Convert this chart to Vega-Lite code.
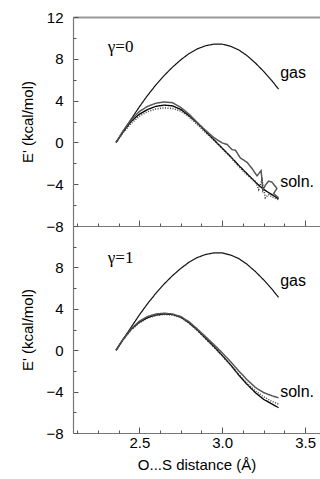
{
  "$schema": "https://vega.github.io/schema/vega-lite/v6.json",
  "padding": {"top": 10, "left": 20, "right": 0, "bottom": 5},
  "bounds": "flush",
  "spacing": 0,
  "config": {
    "view": {"stroke": null},
    "font": "Liberation Sans",
    "axis": {"grid": false, "domainColor": "#777", "domainWidth": 1.2, "tickColor": "#555", "labelColor": "#000", "titleColor": "#000", "labelFont": "Liberation Sans", "titleFont": "Liberation Sans", "titleFontWeight": "normal"}
  },
  "datasets": {
    "curves": [
      {"panel":"top","series":"gas","i":0,"x":2.36,"y":0},{"panel":"top","series":"gas","i":1,"x":2.40,"y":1.0},{"panel":"top","series":"gas","i":2,"x":2.45,"y":2.2},{"panel":"top","series":"gas","i":3,"x":2.50,"y":3.4},{"panel":"top","series":"gas","i":4,"x":2.55,"y":4.5},{"panel":"top","series":"gas","i":5,"x":2.60,"y":5.5},{"panel":"top","series":"gas","i":6,"x":2.65,"y":6.4},{"panel":"top","series":"gas","i":7,"x":2.70,"y":7.2},{"panel":"top","series":"gas","i":8,"x":2.75,"y":7.9},{"panel":"top","series":"gas","i":9,"x":2.80,"y":8.5},{"panel":"top","series":"gas","i":10,"x":2.85,"y":8.95},{"panel":"top","series":"gas","i":11,"x":2.90,"y":9.25},{"panel":"top","series":"gas","i":12,"x":2.95,"y":9.4},{"panel":"top","series":"gas","i":13,"x":3.00,"y":9.4},{"panel":"top","series":"gas","i":14,"x":3.05,"y":9.2},{"panel":"top","series":"gas","i":15,"x":3.10,"y":8.85},{"panel":"top","series":"gas","i":16,"x":3.15,"y":8.3},{"panel":"top","series":"gas","i":17,"x":3.20,"y":7.6},{"panel":"top","series":"gas","i":18,"x":3.25,"y":6.8},{"panel":"top","series":"gas","i":19,"x":3.30,"y":5.9},{"panel":"top","series":"gas","i":20,"x":3.34,"y":5.1},
      {"panel":"top","series":"s1","i":0,"x":2.36,"y":0},{"panel":"top","series":"s1","i":1,"x":2.40,"y":0.95},{"panel":"top","series":"s1","i":2,"x":2.45,"y":2.0},{"panel":"top","series":"s1","i":3,"x":2.50,"y":2.7},{"panel":"top","series":"s1","i":4,"x":2.55,"y":3.15},{"panel":"top","series":"s1","i":5,"x":2.60,"y":3.45},{"panel":"top","series":"s1","i":6,"x":2.65,"y":3.57},{"panel":"top","series":"s1","i":7,"x":2.70,"y":3.5},{"panel":"top","series":"s1","i":8,"x":2.75,"y":3.15},{"panel":"top","series":"s1","i":9,"x":2.80,"y":2.55},{"panel":"top","series":"s1","i":10,"x":2.85,"y":1.85},{"panel":"top","series":"s1","i":11,"x":2.90,"y":1.05},{"panel":"top","series":"s1","i":12,"x":2.95,"y":0.25},{"panel":"top","series":"s1","i":13,"x":3.00,"y":-0.55},{"panel":"top","series":"s1","i":14,"x":3.05,"y":-1.35},{"panel":"top","series":"s1","i":15,"x":3.10,"y":-2.2},{"panel":"top","series":"s1","i":16,"x":3.15,"y":-3.0},{"panel":"top","series":"s1","i":17,"x":3.20,"y":-3.8},{"panel":"top","series":"s1","i":18,"x":3.25,"y":-4.5},{"panel":"top","series":"s1","i":19,"x":3.30,"y":-5.0},{"panel":"top","series":"s1","i":20,"x":3.34,"y":-5.4},
      {"panel":"top","series":"s2","i":0,"x":2.36,"y":0},{"panel":"top","series":"s2","i":1,"x":2.40,"y":1.05},{"panel":"top","series":"s2","i":2,"x":2.45,"y":2.15},{"panel":"top","series":"s2","i":3,"x":2.50,"y":2.95},{"panel":"top","series":"s2","i":4,"x":2.55,"y":3.45},{"panel":"top","series":"s2","i":5,"x":2.60,"y":3.75},{"panel":"top","series":"s2","i":6,"x":2.65,"y":3.87},{"panel":"top","series":"s2","i":7,"x":2.70,"y":3.8},{"panel":"top","series":"s2","i":8,"x":2.75,"y":3.35},{"panel":"top","series":"s2","i":9,"x":2.80,"y":2.7},{"panel":"top","series":"s2","i":10,"x":2.85,"y":1.9},{"panel":"top","series":"s2","i":11,"x":2.90,"y":1.15},{"panel":"top","series":"s2","i":12,"x":2.95,"y":0.45},{"panel":"top","series":"s2","i":13,"x":3.00,"y":-0.05},{"panel":"top","series":"s2","i":14,"x":3.03,"y":-0.2},{"panel":"top","series":"s2","i":15,"x":3.06,"y":-0.7},{"panel":"top","series":"s2","i":16,"x":3.08,"y":-0.75},{"panel":"top","series":"s2","i":17,"x":3.11,"y":-1.5},{"panel":"top","series":"s2","i":18,"x":3.15,"y":-1.9},{"panel":"top","series":"s2","i":19,"x":3.18,"y":-2.5},{"panel":"top","series":"s2","i":20,"x":3.21,"y":-3.2},{"panel":"top","series":"s2","i":21,"x":3.235,"y":-2.7},{"panel":"top","series":"s2","i":22,"x":3.245,"y":-4.6},{"panel":"top","series":"s2","i":23,"x":3.26,"y":-4.1},{"panel":"top","series":"s2","i":24,"x":3.28,"y":-3.7},{"panel":"top","series":"s2","i":25,"x":3.30,"y":-3.8},{"panel":"top","series":"s2","i":26,"x":3.33,"y":-4.4},{"panel":"top","series":"s2","i":27,"x":3.31,"y":-4.9},{"panel":"top","series":"s2","i":28,"x":3.34,"y":-5.3},
      {"panel":"top","series":"s3","i":0,"x":2.36,"y":0},{"panel":"top","series":"s3","i":1,"x":2.40,"y":0.9},{"panel":"top","series":"s3","i":2,"x":2.45,"y":1.8},{"panel":"top","series":"s3","i":3,"x":2.50,"y":2.5},{"panel":"top","series":"s3","i":4,"x":2.55,"y":2.95},{"panel":"top","series":"s3","i":5,"x":2.60,"y":3.2},{"panel":"top","series":"s3","i":6,"x":2.65,"y":3.3},{"panel":"top","series":"s3","i":7,"x":2.70,"y":3.25},{"panel":"top","series":"s3","i":8,"x":2.75,"y":3.0},{"panel":"top","series":"s3","i":9,"x":2.80,"y":2.45},{"panel":"top","series":"s3","i":10,"x":2.85,"y":1.7},{"panel":"top","series":"s3","i":11,"x":2.90,"y":0.95},{"panel":"top","series":"s3","i":12,"x":2.95,"y":0.2},{"panel":"top","series":"s3","i":13,"x":3.00,"y":-0.6},{"panel":"top","series":"s3","i":14,"x":3.05,"y":-1.4},{"panel":"top","series":"s3","i":15,"x":3.10,"y":-2.3},{"panel":"top","series":"s3","i":16,"x":3.15,"y":-3.1},{"panel":"top","series":"s3","i":17,"x":3.20,"y":-3.7},{"panel":"top","series":"s3","i":18,"x":3.22,"y":-4.5},{"panel":"top","series":"s3","i":19,"x":3.24,"y":-3.6},{"panel":"top","series":"s3","i":20,"x":3.26,"y":-5.3},{"panel":"top","series":"s3","i":21,"x":3.28,"y":-5.0},{"panel":"top","series":"s3","i":22,"x":3.30,"y":-5.2},{"panel":"top","series":"s3","i":23,"x":3.34,"y":-5.5},
      {"panel":"bottom","series":"gas","i":0,"x":2.36,"y":0},{"panel":"bottom","series":"gas","i":1,"x":2.40,"y":1.0},{"panel":"bottom","series":"gas","i":2,"x":2.45,"y":2.2},{"panel":"bottom","series":"gas","i":3,"x":2.50,"y":3.4},{"panel":"bottom","series":"gas","i":4,"x":2.55,"y":4.5},{"panel":"bottom","series":"gas","i":5,"x":2.60,"y":5.5},{"panel":"bottom","series":"gas","i":6,"x":2.65,"y":6.4},{"panel":"bottom","series":"gas","i":7,"x":2.70,"y":7.2},{"panel":"bottom","series":"gas","i":8,"x":2.75,"y":7.9},{"panel":"bottom","series":"gas","i":9,"x":2.80,"y":8.5},{"panel":"bottom","series":"gas","i":10,"x":2.85,"y":8.95},{"panel":"bottom","series":"gas","i":11,"x":2.90,"y":9.25},{"panel":"bottom","series":"gas","i":12,"x":2.95,"y":9.4},{"panel":"bottom","series":"gas","i":13,"x":3.00,"y":9.4},{"panel":"bottom","series":"gas","i":14,"x":3.05,"y":9.2},{"panel":"bottom","series":"gas","i":15,"x":3.10,"y":8.85},{"panel":"bottom","series":"gas","i":16,"x":3.15,"y":8.3},{"panel":"bottom","series":"gas","i":17,"x":3.20,"y":7.6},{"panel":"bottom","series":"gas","i":18,"x":3.25,"y":6.8},{"panel":"bottom","series":"gas","i":19,"x":3.30,"y":5.9},{"panel":"bottom","series":"gas","i":20,"x":3.34,"y":5.1},
      {"panel":"bottom","series":"s1","i":0,"x":2.36,"y":0},{"panel":"bottom","series":"s1","i":1,"x":2.40,"y":1.0},{"panel":"bottom","series":"s1","i":2,"x":2.45,"y":2.0},{"panel":"bottom","series":"s1","i":3,"x":2.50,"y":2.7},{"panel":"bottom","series":"s1","i":4,"x":2.55,"y":3.15},{"panel":"bottom","series":"s1","i":5,"x":2.60,"y":3.4},{"panel":"bottom","series":"s1","i":6,"x":2.65,"y":3.5},{"panel":"bottom","series":"s1","i":7,"x":2.70,"y":3.45},{"panel":"bottom","series":"s1","i":8,"x":2.75,"y":3.2},{"panel":"bottom","series":"s1","i":9,"x":2.80,"y":2.65},{"panel":"bottom","series":"s1","i":10,"x":2.85,"y":1.95},{"panel":"bottom","series":"s1","i":11,"x":2.90,"y":1.15},{"panel":"bottom","series":"s1","i":12,"x":2.95,"y":0.35},{"panel":"bottom","series":"s1","i":13,"x":3.00,"y":-0.5},{"panel":"bottom","series":"s1","i":14,"x":3.05,"y":-1.4},{"panel":"bottom","series":"s1","i":15,"x":3.10,"y":-2.4},{"panel":"bottom","series":"s1","i":16,"x":3.15,"y":-3.3},{"panel":"bottom","series":"s1","i":17,"x":3.20,"y":-4.1},{"panel":"bottom","series":"s1","i":18,"x":3.25,"y":-4.75},{"panel":"bottom","series":"s1","i":19,"x":3.30,"y":-5.2},{"panel":"bottom","series":"s1","i":20,"x":3.34,"y":-5.55},
      {"panel":"bottom","series":"s2","i":0,"x":2.36,"y":0},{"panel":"bottom","series":"s2","i":1,"x":2.40,"y":1.0},{"panel":"bottom","series":"s2","i":2,"x":2.45,"y":2.05},{"panel":"bottom","series":"s2","i":3,"x":2.50,"y":2.8},{"panel":"bottom","series":"s2","i":4,"x":2.55,"y":3.25},{"panel":"bottom","series":"s2","i":5,"x":2.60,"y":3.5},{"panel":"bottom","series":"s2","i":6,"x":2.65,"y":3.57},{"panel":"bottom","series":"s2","i":7,"x":2.70,"y":3.5},{"panel":"bottom","series":"s2","i":8,"x":2.75,"y":3.25},{"panel":"bottom","series":"s2","i":9,"x":2.80,"y":2.75},{"panel":"bottom","series":"s2","i":10,"x":2.85,"y":2.05},{"panel":"bottom","series":"s2","i":11,"x":2.90,"y":1.3},{"panel":"bottom","series":"s2","i":12,"x":2.95,"y":0.55},{"panel":"bottom","series":"s2","i":13,"x":3.00,"y":-0.25},{"panel":"bottom","series":"s2","i":14,"x":3.05,"y":-1.1},{"panel":"bottom","series":"s2","i":15,"x":3.10,"y":-2.0},{"panel":"bottom","series":"s2","i":16,"x":3.15,"y":-2.85},{"panel":"bottom","series":"s2","i":17,"x":3.20,"y":-3.6},{"panel":"bottom","series":"s2","i":18,"x":3.25,"y":-4.1},{"panel":"bottom","series":"s2","i":19,"x":3.30,"y":-4.4},{"panel":"bottom","series":"s2","i":20,"x":3.34,"y":-4.6},
      {"panel":"bottom","series":"s3","i":0,"x":2.36,"y":0},{"panel":"bottom","series":"s3","i":1,"x":2.40,"y":0.95},{"panel":"bottom","series":"s3","i":2,"x":2.45,"y":1.95},{"panel":"bottom","series":"s3","i":3,"x":2.50,"y":2.65},{"panel":"bottom","series":"s3","i":4,"x":2.55,"y":3.1},{"panel":"bottom","series":"s3","i":5,"x":2.60,"y":3.35},{"panel":"bottom","series":"s3","i":6,"x":2.65,"y":3.45},{"panel":"bottom","series":"s3","i":7,"x":2.70,"y":3.4},{"panel":"bottom","series":"s3","i":8,"x":2.75,"y":3.15},{"panel":"bottom","series":"s3","i":9,"x":2.80,"y":2.6},{"panel":"bottom","series":"s3","i":10,"x":2.85,"y":1.9},{"panel":"bottom","series":"s3","i":11,"x":2.90,"y":1.1},{"panel":"bottom","series":"s3","i":12,"x":2.95,"y":0.3},{"panel":"bottom","series":"s3","i":13,"x":3.00,"y":-0.55},{"panel":"bottom","series":"s3","i":14,"x":3.05,"y":-1.45},{"panel":"bottom","series":"s3","i":15,"x":3.10,"y":-2.35},{"panel":"bottom","series":"s3","i":16,"x":3.15,"y":-3.2},{"panel":"bottom","series":"s3","i":17,"x":3.20,"y":-3.95},{"panel":"bottom","series":"s3","i":18,"x":3.25,"y":-4.5},{"panel":"bottom","series":"s3","i":19,"x":3.30,"y":-4.95},{"panel":"bottom","series":"s3","i":20,"x":3.34,"y":-5.2}
    ],
    "labels": [
      {"panel":"top","kind":"gamma","text":"γ=0","x":2.31,"y":9.1},
      {"panel":"top","kind":"curve","text":"gas","x":3.35,"y":6.6},
      {"panel":"top","kind":"curve","text":"soln.","x":3.35,"y":-3.8},
      {"panel":"bottom","kind":"gamma","text":"γ=1","x":2.31,"y":8.9},
      {"panel":"bottom","kind":"curve","text":"gas","x":3.35,"y":6.7},
      {"panel":"bottom","kind":"curve","text":"soln.","x":3.35,"y":-4.0}
    ]
  },
  "vconcat": [
    {
      "width": 247, "height": 209,
      "layer": [
        {
          "data": {"name": "curves"},
          "transform": [{"filter": "datum.panel == 'top'"}],
          "mark": {"type": "line"},
          "encoding": {
            "x": {"field": "x", "type": "quantitative", "scale": {"domain": [2.1, 3.59], "nice": false, "zero": false},
                  "axis": {"orient": "bottom", "values": [2.5, 3.0, 3.5], "labels": false, "title": null, "tickSize": -6}},
            "y": {"field": "y", "type": "quantitative", "scale": {"domain": [-8, 12], "nice": false, "zero": false},
                  "axis": {"orient": "left", "values": [-8, -4, 0, 4, 8, 12], "tickSize": -5, "labelPadding": 15, "labelFontSize": 15, "title": "E' (kcal/mol)", "titleFontSize": 15, "titlePadding": 10}},
            "detail": {"field": "series"},
            "order": {"field": "i", "type": "quantitative"},
            "color": {"field": "series", "type": "nominal", "scale": {"domain": ["gas", "s1", "s2", "s3"], "range": ["#111", "#000", "#555", "#444"]}, "legend": null},
            "strokeWidth": {"field": "series", "type": "nominal", "scale": {"domain": ["gas", "s1", "s2", "s3"], "range": [1.2, 1.6, 0.7, 0.8]}, "legend": null},
            "strokeDash": {"field": "series", "type": "nominal", "scale": {"domain": ["gas", "s1", "s2", "s3"], "range": [[1, 0], [1, 0], [1, 0], [1, 1.5]]}, "legend": null}
          }
        },
        {
          "data": {"name": "labels"},
          "transform": [{"filter": "datum.panel == 'top' && datum.kind == 'gamma'"}],
          "mark": {"type": "text", "font": "Liberation Serif", "fontSize": 17, "align": "left", "baseline": "middle"},
          "encoding": {
            "x": {"field": "x", "type": "quantitative", "scale": {"domain": [2.1, 3.59], "nice": false, "zero": false},
                  "axis": {"orient": "bottom", "values": [2.125, 2.25, 2.375, 2.625, 2.75, 2.875, 3.125, 3.25, 3.375], "labels": false, "title": null, "tickSize": -3, "domain": false}},
            "y": {"field": "y", "type": "quantitative", "scale": {"domain": [-8, 12], "nice": false, "zero": false},
                  "axis": {"orient": "left", "values": [-6, -2, 2, 6, 10], "labels": false, "title": null, "tickSize": -3, "domain": false}},
            "text": {"field": "text"}
          }
        },
        {
          "data": {"name": "labels"},
          "transform": [{"filter": "datum.panel == 'top' && datum.kind == 'curve'"}],
          "mark": {"type": "text", "font": "Liberation Sans", "fontSize": 16, "align": "left", "baseline": "middle"},
          "encoding": {
            "x": {"field": "x", "type": "quantitative", "scale": {"domain": [2.1, 3.59], "nice": false, "zero": false},
                  "axis": {"orient": "top", "values": [], "labels": false, "ticks": false, "title": null, "domainColor": "#999", "domainWidth": 2}},
            "y": {"field": "y", "type": "quantitative", "scale": {"domain": [-8, 12], "nice": false, "zero": false}, "axis": null},
            "text": {"field": "text"}
          }
        }
      ],
      "resolve": {"axis": {"x": "independent", "y": "independent"}}
    },
    {
      "width": 247, "height": 207,
      "layer": [
        {
          "data": {"name": "curves"},
          "transform": [{"filter": "datum.panel == 'bottom'"}],
          "mark": {"type": "line"},
          "encoding": {
            "x": {"field": "x", "type": "quantitative", "scale": {"domain": [2.1, 3.59], "nice": false, "zero": false},
                  "axis": {"orient": "bottom", "values": [2.5, 3.0, 3.5], "format": ".1f", "tickSize": -6, "labelPadding": 8, "labelFontSize": 15, "title": "O...S distance (Å)", "titleFontSize": 15, "titlePadding": 7}},
            "y": {"field": "y", "type": "quantitative", "scale": {"domain": [-8, 12], "nice": false, "zero": false},
                  "axis": {"orient": "left", "values": [-8, -4, 0, 4, 8], "tickSize": -5, "labelPadding": 15, "labelFontSize": 15, "title": "E' (kcal/mol)", "titleFontSize": 15, "titlePadding": 10}},
            "detail": {"field": "series"},
            "order": {"field": "i", "type": "quantitative"},
            "color": {"field": "series", "type": "nominal", "scale": {"domain": ["gas", "s1", "s2", "s3"], "range": ["#111", "#000", "#555", "#444"]}, "legend": null},
            "strokeWidth": {"field": "series", "type": "nominal", "scale": {"domain": ["gas", "s1", "s2", "s3"], "range": [1.2, 1.6, 0.7, 0.8]}, "legend": null},
            "strokeDash": {"field": "series", "type": "nominal", "scale": {"domain": ["gas", "s1", "s2", "s3"], "range": [[1, 0], [1, 0], [1, 0], [1, 1.5]]}, "legend": null}
          }
        },
        {
          "data": {"name": "labels"},
          "transform": [{"filter": "datum.panel == 'bottom' && datum.kind == 'gamma'"}],
          "mark": {"type": "text", "font": "Liberation Serif", "fontSize": 17, "align": "left", "baseline": "middle"},
          "encoding": {
            "x": {"field": "x", "type": "quantitative", "scale": {"domain": [2.1, 3.59], "nice": false, "zero": false},
                  "axis": {"orient": "bottom", "values": [2.125, 2.25, 2.375, 2.625, 2.75, 2.875, 3.125, 3.25, 3.375], "labels": false, "title": null, "tickSize": -3, "domain": false}},
            "y": {"field": "y", "type": "quantitative", "scale": {"domain": [-8, 12], "nice": false, "zero": false},
                  "axis": {"orient": "left", "values": [-6, -2, 2, 6, 10], "labels": false, "title": null, "tickSize": -3, "domain": false}},
            "text": {"field": "text"}
          }
        },
        {
          "data": {"name": "labels"},
          "transform": [{"filter": "datum.panel == 'bottom' && datum.kind == 'curve'"}],
          "mark": {"type": "text", "font": "Liberation Sans", "fontSize": 16, "align": "left", "baseline": "middle"},
          "encoding": {
            "x": {"field": "x", "type": "quantitative", "scale": {"domain": [2.1, 3.59], "nice": false, "zero": false}, "axis": null},
            "y": {"field": "y", "type": "quantitative", "scale": {"domain": [-8, 12], "nice": false, "zero": false}, "axis": null},
            "text": {"field": "text"}
          }
        }
      ],
      "resolve": {"axis": {"x": "independent", "y": "independent"}}
    }
  ]
}
